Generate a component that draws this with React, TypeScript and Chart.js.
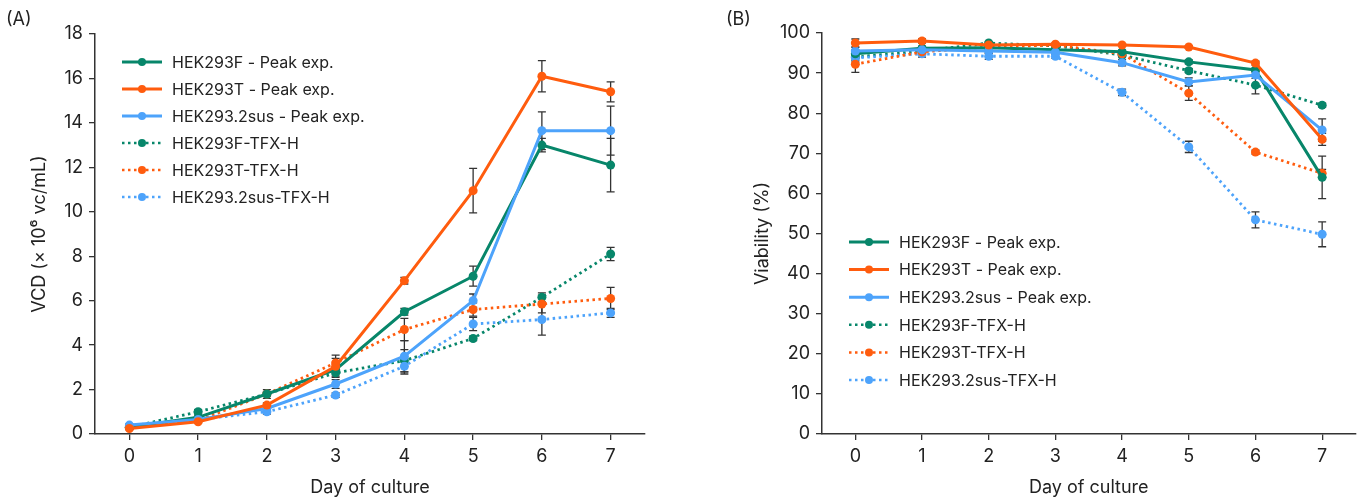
import React, { useEffect, useRef } from "react";
import { Chart, registerables } from "chart.js";

Chart.register(...registerables);

const days = ["0", "1", "2", "3", "4", "5", "6", "7"];

const seriesNames = [
  "HEK293F - Peak exp.",
  "HEK293T - Peak exp.",
  "HEK293.2sus - Peak exp.",
  "HEK293F-TFX-H",
  "HEK293T-TFX-H",
  "HEK293.2sus-TFX-H",
];
const seriesColors = ["#07866a", "#ff5c0e", "#4da3fb", "#07866a", "#ff5c0e", "#4da3fb"];
const seriesDotted = [false, false, false, true, true, true];

// Panel A: VCD (x10^6 vc/mL)
const vcdF = [0.3, 0.75, 1.8, 2.9, 5.5, 7.1, 13.0, 12.1];
const vcdT = [0.25, 0.55, 1.3, 3.05, 6.9, 10.95, 16.1, 15.4];
const vcdS = [0.4, 0.65, 1.15, 2.25, 3.5, 6.0, 13.65, 13.65];
const vcdFtfx = [0.3, 1.0, 1.8, 2.75, 3.3, 4.3, 6.15, 8.1];
const vcdTtfx = [0.3, 0.6, 1.8, 3.2, 4.7, 5.6, 5.85, 6.1];
const vcdStfx = [0.35, 0.65, 1.0, 1.75, 3.05, 4.95, 5.15, 5.45];

const vcdFerr = [0.05, 0.05, 0.1, 0.1, 0.15, 0.45, 0.3, 1.2];
const vcdTerr = [0.05, 0.05, 0.1, 0.5, 0.15, 1.0, 0.7, 0.45];
const vcdSerr = [0.05, 0.05, 0.1, 0.2, 0.7, 0.3, 0.85, 1.1];
const vcdFtfxErr = [0.05, 0.1, 0.1, 0.15, 0.5, 0.1, 0.2, 0.3];
const vcdTtfxErr = [0.05, 0.05, 0.2, 0.2, 0.5, 0.3, 0.4, 0.5];
const vcdStfxErr = [0.05, 0.05, 0.1, 0.1, 0.35, 0.3, 0.7, 0.2];

// Panel B: Viability (%)
const viaF = [94.8, 96.2, 96.3, 95.8, 95.3, 92.8, 90.8, 64.0];
const viaT = [97.5, 98.0, 97.0, 97.2, 97.0, 96.5, 92.5, 73.5];
const viaS = [95.5, 95.8, 95.5, 95.2, 92.6, 87.8, 89.5, 75.8];
const viaFtfx = [94.0, 95.5, 97.5, 96.8, 94.5, 90.6, 87.0, 82.0];
const viaTtfx = [92.2, 95.3, 96.5, 97.0, 94.8, 85.0, 70.3, 65.0];
const viaStfx = [93.8, 94.8, 94.2, 94.2, 85.2, 71.6, 53.4, 49.8];

const viaFerr = [1, 0.5, 0.5, 0.3, 0.5, 0.5, 0.5, 5.3];
const viaTerr = [1, 0.5, 0.3, 0.3, 0.3, 0.3, 0.5, 1.5];
const viaSerr = [1, 0.5, 0.5, 0.3, 0.8, 1.0, 0.8, 2.8];
const viaFtfxErr = [0.8, 0.5, 0.3, 0.3, 0.5, 0.5, 2.2, 0.5];
const viaTtfxErr = [2, 0.5, 0.5, 0.3, 0.5, 1.8, 0.5, 1.0];
const viaStfxErr = [1, 0.8, 0.8, 0.5, 0.8, 1.4, 2.0, 3.1];

const vcdTicks = { min: 0, max: 18, step: 2 };
const viaTicks = { min: 0, max: 100, step: 10 };

const FONT = "Inter, 'Noto Sans', sans-serif";
const TEXT = "#222";
const AXIS = "#333";

const errorBarPlugin = {
  id: "errorBars",
  beforeDatasetsDraw(chart: any) {
    const ctx = chart.ctx;
    const y = chart.scales.y;
    ctx.save();
    ctx.strokeStyle = "#333";
    ctx.lineWidth = 1.3;
    chart.data.datasets.forEach((ds: any, di: number) => {
      const meta = chart.getDatasetMeta(di);
      (ds.errors || []).forEach((e: number, i: number) => {
        const pt = meta.data[i];
        if (!pt) return;
        const v = ds.data[i];
        const y1 = y.getPixelForValue(v - e);
        const y2 = y.getPixelForValue(v + e);
        const x = pt.x;
        ctx.beginPath();
        ctx.moveTo(x, y1);
        ctx.lineTo(x, y2);
        ctx.moveTo(x - 4, y1);
        ctx.lineTo(x + 4, y1);
        ctx.moveTo(x - 4, y2);
        ctx.lineTo(x + 4, y2);
        ctx.stroke();
      });
    });
    ctx.restore();
  },
};

const legendPlugin = {
  id: "customLegend",
  afterDraw(chart: any) {
    const o = chart.options.plugins.customLegend;
    if (!o) return;
    const ctx = chart.ctx;
    ctx.save();
    seriesNames.forEach((name, i) => {
      const yy = o.y + i * o.gap;
      ctx.strokeStyle = seriesColors[i];
      ctx.lineWidth = seriesDotted[i] ? 2.5 : 3;
      ctx.setLineDash(seriesDotted[i] ? [2.5, 3.5] : []);
      ctx.beginPath();
      ctx.moveTo(o.x, yy);
      ctx.lineTo(o.x + 40, yy);
      ctx.stroke();
      ctx.setLineDash([]);
      ctx.fillStyle = seriesColors[i];
      ctx.beginPath();
      ctx.arc(o.x + 20, yy, 4, 0, Math.PI * 2);
      ctx.fill();
      ctx.fillStyle = TEXT;
      ctx.font = `16px ${FONT}`;
      ctx.textBaseline = "middle";
      ctx.textAlign = "left";
      ctx.fillText(name, o.x + 50, yy + 1);
    });
    ctx.restore();
  },
};

function makeDatasets(vals: number[][], errs: number[][]) {
  return vals.map((d, i) => ({
    label: seriesNames[i],
    data: d,
    errors: errs[i],
    borderColor: seriesColors[i],
    backgroundColor: seriesColors[i],
    pointBackgroundColor: seriesColors[i],
    pointBorderWidth: 0,
    pointRadius: 4.5,
    borderWidth: seriesDotted[i] ? 2.8 : 3,
    borderDash: seriesDotted[i] ? [2.5, 3.5] : [],
    tension: 0,
    order: [3, 1, 2, 6, 4, 5][i],
  }));
}

function makeOptions(cfg: {
  ticks: { min: number; max: number; step: number };
  yTitle: string;
  yWidth: number;
  yTitlePad: number;
  xHeight: number;
  padTop: number;
  padRight: number;
  legend: { x: number; y: number; gap: number };
}) {
  return {
    animation: false,
    responsive: false,
    maintainAspectRatio: false,
    layout: { padding: { left: 0, top: cfg.padTop, right: cfg.padRight, bottom: 0 } },
    plugins: {
      legend: { display: false },
      tooltip: { enabled: false },
      customLegend: cfg.legend,
    },
    scales: {
      x: {
        type: "category",
        offset: true,
        grid: { drawOnChartArea: false, drawTicks: true, tickLength: 6, color: AXIS, lineWidth: 1.3, offset: false },
        border: { display: true, color: AXIS, width: 1.5 },
        ticks: { color: TEXT, font: { size: 18, family: FONT }, padding: 6, maxRotation: 0 },
        title: { display: true, text: "Day of culture", color: TEXT, font: { size: 18, family: FONT }, padding: { top: 0, bottom: 4 } },
        afterFit: (s: any) => { s.height = cfg.xHeight; },
      },
      y: {
        min: cfg.ticks.min,
        max: cfg.ticks.max,
        grid: { drawOnChartArea: false, drawTicks: true, tickLength: 6, color: AXIS, lineWidth: 1.3 },
        border: { display: true, color: AXIS, width: 1.5 },
        ticks: { stepSize: cfg.ticks.step, color: TEXT, font: { size: 18, family: FONT }, padding: 6 },
        title: { display: true, text: cfg.yTitle, color: TEXT, font: { size: 18, family: FONT }, padding: { top: cfg.yTitlePad, bottom: 0 } },
        afterFit: (s: any) => { s.width = cfg.yWidth; },
      },
    },
  } as any;
}

function Panel(props: { vals: number[][]; errs: number[][]; options: any; left: number; width: number; label: string; labelX: number }) {
  const ref = useRef<HTMLCanvasElement>(null);
  useEffect(() => {
    const chart = new Chart(ref.current as HTMLCanvasElement, {
      type: "line",
      data: { labels: days, datasets: makeDatasets(props.vals, props.errs) as any },
      options: props.options,
      plugins: [errorBarPlugin, legendPlugin],
    });
    return () => chart.destroy();
  }, []);
  return (
    <div style={{ position: "absolute", left: props.left, top: 0, width: props.width, height: 502 }}>
      <canvas ref={ref} width={props.width} height={502} style={{ width: props.width, height: 502, display: "block" }} />
      <div style={{ position: "absolute", left: props.labelX, top: 8, fontFamily: FONT, fontSize: 18, color: TEXT, lineHeight: "22px" }}>{props.label}</div>
    </div>
  );
}

export default function App() {
  const optsA = makeOptions({
    ticks: vcdTicks,
    yTitle: "VCD (× 10⁶ vc/mL)",
    yWidth: 95,
    yTitlePad: 29,
    xHeight: 68,
    padTop: 34,
    padRight: 35,
    legend: { x: 122, y: 62, gap: 27 },
  });
  const optsB = makeOptions({
    ticks: viaTicks,
    yTitle: "Viability (%)",
    yWidth: 142,
    yTitlePad: 72,
    xHeight: 68,
    padTop: 33,
    padRight: 4,
    legend: { x: 169, y: 242, gap: 27.6 },
  });
  return (
    <div style={{ position: "fixed", left: 0, top: 0, width: 1360, height: 502, background: "#fff", overflow: "hidden" }}>
      <Panel
        vals={[vcdF, vcdT, vcdS, vcdFtfx, vcdTtfx, vcdStfx]}
        errs={[vcdFerr, vcdTerr, vcdSerr, vcdFtfxErr, vcdTtfxErr, vcdStfxErr]}
        options={optsA}
        left={0}
        width={680}
        label="(A)"
        labelX={6}
      />
      <Panel
        vals={[viaF, viaT, viaS, viaFtfx, viaTtfx, viaStfx]}
        errs={[viaFerr, viaTerr, viaSerr, viaFtfxErr, viaTtfxErr, viaStfxErr]}
        options={optsB}
        left={680}
        width={680}
        label="(B)"
        labelX={46}
      />
    </div>
  );
}
